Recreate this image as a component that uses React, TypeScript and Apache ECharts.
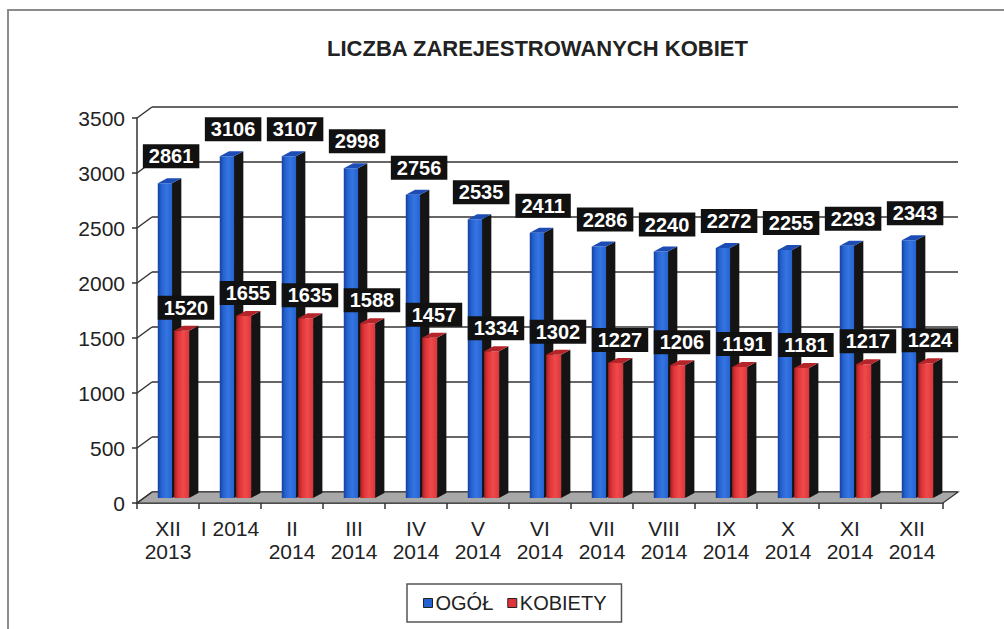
import React, { useEffect, useRef } from "react";
import * as echarts from "echarts";

const categories = [
  "XII\n2013", "I 2014", "II\n2014", "III\n2014", "IV\n2014", "V\n2014", "VI\n2014",
  "VII\n2014", "VIII\n2014", "IX\n2014", "X\n2014", "XI\n2014", "XII\n2014",
];
const ogol = [2861, 3106, 3107, 2998, 2756, 2535, 2411, 2286, 2240, 2272, 2255, 2293, 2343];
const kobiety = [1520, 1655, 1635, 1588, 1457, 1334, 1302, 1227, 1206, 1191, 1181, 1217, 1224];
const yTicks = [0, 500, 1000, 1500, 2000, 2500, 3000, 3500];
const seriesNames = ["OGÓŁ", "KOBIETY"];
const titleText = "LICZBA ZAREJESTROWANYCH KOBIET";

const FONT = '"Liberation Sans", Arial, sans-serif';
const DEPTH_X = 15;
const DEPTH_Y = 11;

const BLUE = { dark: "#17409a", main: "#2462d2", light: "#3575e0", side: "#141414", top: "#1c4cb4" };
const RED = { dark: "#a82024", main: "#df3438", light: "#ee4a4c", side: "#141414", top: "#b52428" };

function makeBar(colors: any, frontOffset: number, frontWidth: number, labelDx: number, labelDy: number) {
  return (params: any, api: any) => {
    const i = api.value(0);
    const v = api.value(1);
    const top = api.coord([i, v]);
    const base = api.coord([i, 0]);
    const band = api.size([1, 0])[0];
    const cx = top[0];
    const yTop = top[1];
    const yBase = base[1];
    const x0 = cx + band * frontOffset;
    const w = band * frontWidth;
    const x1 = x0 + w;
    const dx = band * 0.15;
    const dy = 5;
    return {
      type: "group",
      children: [
        {
          type: "polygon",
          shape: { points: [[x1, yTop], [x1 + dx, yTop - dy], [x1 + dx, yBase - dy], [x1, yBase]] },
          style: { fill: colors.side },
        },
        {
          type: "rect",
          shape: { x: x0, y: yTop, width: w, height: yBase - yTop },
          style: {
            fill: new echarts.graphic.LinearGradient(0, 0, 1, 0, [
              { offset: 0, color: colors.dark },
              { offset: 0.25, color: colors.main },
              { offset: 0.6, color: colors.light },
              { offset: 1, color: colors.main },
            ]),
          },
        },
        {
          type: "polygon",
          shape: { points: [[x0, yTop], [x1, yTop], [x1 + dx, yTop - dy], [x0 + dx, yTop - dy]] },
          style: { fill: colors.top },
        },
        {
          type: "text",
          x: cx + band * labelDx,
          y: yTop - labelDy,
          z2: 100,
          style: {
            text: String(v),
            fill: "#ffffff",
            fontSize: 20,
            fontWeight: "bold",
            fontFamily: FONT,
            lineHeight: 20,
            backgroundColor: "#111111",
            padding: [3, 6, 1, 6],
            align: "center",
            verticalAlign: "middle",
          },
        },
      ],
    };
  };
}

export default function App() {
  const ref = useRef<HTMLDivElement>(null);

  useEffect(() => {
    if (!ref.current) return;
    const chart = echarts.init(ref.current, null, { renderer: "svg" });
    const gridBox = { width: 806, height: 385 };
    const hiddenX = (gi: number) => ({
      type: "category",
      gridIndex: gi,
      data: categories,
      boundaryGap: true,
      show: false,
    });
    const hiddenY = (gi: number) => ({
      type: "value",
      gridIndex: gi,
      min: 0,
      max: 3500,
      interval: 500,
      axisLine: { show: false },
      axisTick: { show: false },
      axisLabel: { show: false },
      splitLine: { show: false },
    });

    const option: any = {
      animation: false,
      backgroundColor: "#ffffff",
      textStyle: { fontFamily: FONT },
      title: {
        text: titleText,
        left: 322,
        top: 32,
        textStyle: { fontSize: 22, fontWeight: "bold", color: "#222", fontFamily: FONT },
      },
      legend: {
        left: 407,
        top: 584,
        orient: "horizontal",
        selectedMode: false,
        icon: "rect",
        itemWidth: 9,
        itemHeight: 9,
        itemGap: 14,
        padding: [9, 15, 9, 16],
        borderColor: "#555",
        borderWidth: 1.5,
        textStyle: { fontSize: 20, color: "#222", fontFamily: FONT, padding: [0, 0, 0, -2] },
        data: [
          { name: seriesNames[0], itemStyle: { color: BLUE.main, borderColor: "#222", borderWidth: 1 } },
          { name: seriesNames[1], itemStyle: { color: RED.main, borderColor: "#222", borderWidth: 1 } },
        ],
      },
      graphic: [
        {
          type: "rect",
          shape: { x: 8, y: 10, width: 1100, height: 700 },
          style: { fill: "none", stroke: "#8c8c8c", lineWidth: 2 },
          silent: true,
        },
      ],
      grid: [
        { left: 137, top: 118, ...gridBox },
        { left: 137, top: 113, ...gridBox },
        { left: 137 + DEPTH_X, top: 118 - DEPTH_Y, ...gridBox },
      ],
      xAxis: [
        {
          type: "category",
          gridIndex: 0,
          data: categories,
          boundaryGap: true,
          axisLine: { lineStyle: { color: "#333", width: 1.5 } },
          axisTick: { show: true, length: 6, interval: 0, lineStyle: { color: "#333", width: 1.5 } },
          axisLabel: { interval: 0, fontSize: 21, lineHeight: 23, color: "#222", margin: 14, fontFamily: FONT },
        },
        hiddenX(1),
        hiddenX(2),
      ],
      yAxis: [
        {
          type: "value",
          gridIndex: 0,
          min: 0,
          max: 3500,
          interval: 500,
          axisLine: { show: true, lineStyle: { color: "#333", width: 1.5 } },
          axisTick: { show: true, length: 5, lineStyle: { color: "#333", width: 1.5 } },
          axisLabel: {
            fontSize: 21,
            color: "#222",
            margin: 12,
            fontFamily: FONT,
            formatter: (v: number) => String(v),
          },
          splitLine: { show: false },
        },
        hiddenY(1),
        {
          ...hiddenY(2),
          splitLine: { show: true, lineStyle: { color: "#333", width: 1.5 } },
        },
      ],
      series: [
        {
          type: "custom",
          xAxisIndex: 0,
          yAxisIndex: 0,
          z: 1,
          silent: true,
          data: [[0, 0]],
          renderItem: (params: any, api: any) => {
            const band = api.size([1, 0])[0];
            const a = api.coord([0, 0]);
            const b = api.coord([categories.length - 1, 0]);
            const l = a[0] - band / 2;
            const r = b[0] + band / 2;
            const y = a[1];
            return {
              type: "polygon",
              shape: { points: [[l, y], [r, y], [r + DEPTH_X, y - DEPTH_Y], [l + DEPTH_X, y - DEPTH_Y]] },
              style: { fill: "#a8a8a8", stroke: "#333", lineWidth: 1.2 },
            };
          },
        },
        {
          type: "custom",
          xAxisIndex: 0,
          yAxisIndex: 0,
          z: 1,
          silent: true,
          data: yTicks.map((v) => [0, v]),
          renderItem: (params: any, api: any) => {
            const band = api.size([1, 0])[0];
            const p = api.coord([0, api.value(1)]);
            const l = p[0] - band / 2;
            return {
              type: "line",
              shape: { x1: l, y1: p[1], x2: l + DEPTH_X, y2: p[1] - DEPTH_Y },
              style: { stroke: "#333", lineWidth: 1.5 },
            };
          },
        },
        {
          name: seriesNames[0],
          type: "custom",
          xAxisIndex: 1,
          yAxisIndex: 1,
          z: 2,
          itemStyle: { color: BLUE.main },
          data: ogol.map((v, i) => [i, v]),
          encode: { x: 0, y: 1 },
          renderItem: makeBar(BLUE, -0.165, 0.23, 0.05, 27),
        },
        {
          name: seriesNames[1],
          type: "custom",
          xAxisIndex: 1,
          yAxisIndex: 1,
          z: 2,
          itemStyle: { color: RED.main },
          data: kobiety.map((v, i) => [i, v]),
          encode: { x: 0, y: 1 },
          renderItem: makeBar(RED, 0.1, 0.24, 0.29, 23),
        },
      ],
    };
    chart.setOption(option);
    return () => chart.dispose();
  }, []);

  return (
    <div
      ref={ref}
      style={{ position: "fixed", left: 0, top: 0, width: 1004, height: 629, background: "#fff" }}
    />
  );
}
